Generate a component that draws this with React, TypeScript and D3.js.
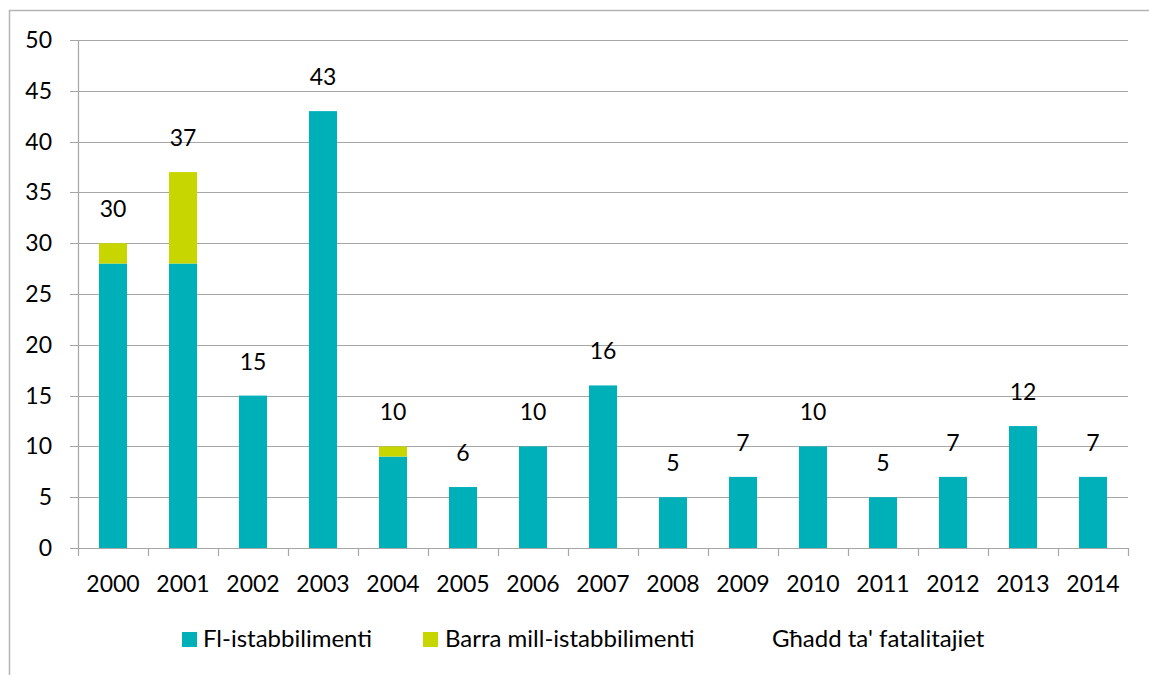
import React from "react";
import * as d3 from "d3";

const years = ["2000","2001","2002","2003","2004","2005","2006","2007","2008","2009","2010","2011","2012","2013","2014"];
const inside = [28,28,15,43,9,6,10,16,5,7,10,5,7,12,7];
const outside = [2,9,0,0,1,0,0,0,0,0,0,0,0,0,0];
const totals = [30,37,15,43,10,6,10,16,5,7,10,5,7,12,7];
const yTicks = [0,5,10,15,20,25,30,35,40,45,50];
const seriesNames = ["Fl-istabbilimenti","Barra mill-istabbilimenti","Għadd ta' fatalitajiet"];

const W = 1149, H = 675;
const left = 78, right = 1128, top = 40, bottom = 548;
const TEAL = "#00B0B9";
const LIME = "#C8D600";
const GRID = "#A6A6A6";
const FONT = "Lato, 'Open Sans', sans-serif";

export default function App() {
  const xb = d3.scaleBand<string>().domain(years).range([left, right]);
  const y = d3.scaleLinear().domain([0, 50]).range([bottom, top]);
  const bw = 28;
  return (
    <svg width={W} height={H} style={{ position: "absolute", left: 0, top: 0, background: "#fff" }} fontFamily={FONT}>
      <rect x={9.5} y={10.5} width={W + 10} height={H + 10} fill="none" stroke="#B4B4B4" strokeWidth={1.5} />
      {yTicks.map((t) => (
        <g key={t}>
          <line x1={70} x2={right} y1={Math.round(y(t)) + 0.5} y2={Math.round(y(t)) + 0.5} stroke={GRID} strokeWidth={1.2} />
          <text x={52} y={y(t) + 8} textAnchor="end" fontSize={23} fill="#000">{t}</text>
        </g>
      ))}
      <line x1={left + 0.5} x2={left + 0.5} y1={top} y2={bottom} stroke={GRID} strokeWidth={1.2} />
      {years.map((yr) => (
        <line key={"t" + yr} x1={xb(yr)! + 0.5} x2={xb(yr)! + 0.5} y1={bottom} y2={bottom + 8} stroke={GRID} strokeWidth={1.2} />
      ))}
      <line x1={right + 0.5} x2={right + 0.5} y1={bottom} y2={bottom + 8} stroke={GRID} strokeWidth={1.2} />
      {years.map((yr, i) => {
        const cx = xb(yr)! + xb.bandwidth() / 2;
        return (
          <g key={yr}>
            <rect x={cx - bw / 2} y={y(inside[i])} width={bw} height={y(0) - y(inside[i])} fill={TEAL} />
            {outside[i] > 0 && (
              <rect x={cx - bw / 2} y={y(inside[i] + outside[i])} width={bw} height={y(0) - y(outside[i])} fill={LIME} />
            )}
            <text x={cx} y={y(totals[i]) - 26} textAnchor="middle" fontSize={23} fill="#000">{totals[i]}</text>
            <text x={cx} y={592} textAnchor="middle" fontSize={23} fill="#000">{yr}</text>
          </g>
        );
      })}
      <g fontSize={24}>
        <rect x={182} y={632} width={15} height={15} fill={TEAL} />
        <text x={203} y={647}>{seriesNames[0]}</text>
        <rect x={423} y={632} width={15} height={15} fill={LIME} />
        <text x={445} y={647}>{seriesNames[1]}</text>
        <text x={772} y={647}>{seriesNames[2]}</text>
      </g>
    </svg>
  );
}
